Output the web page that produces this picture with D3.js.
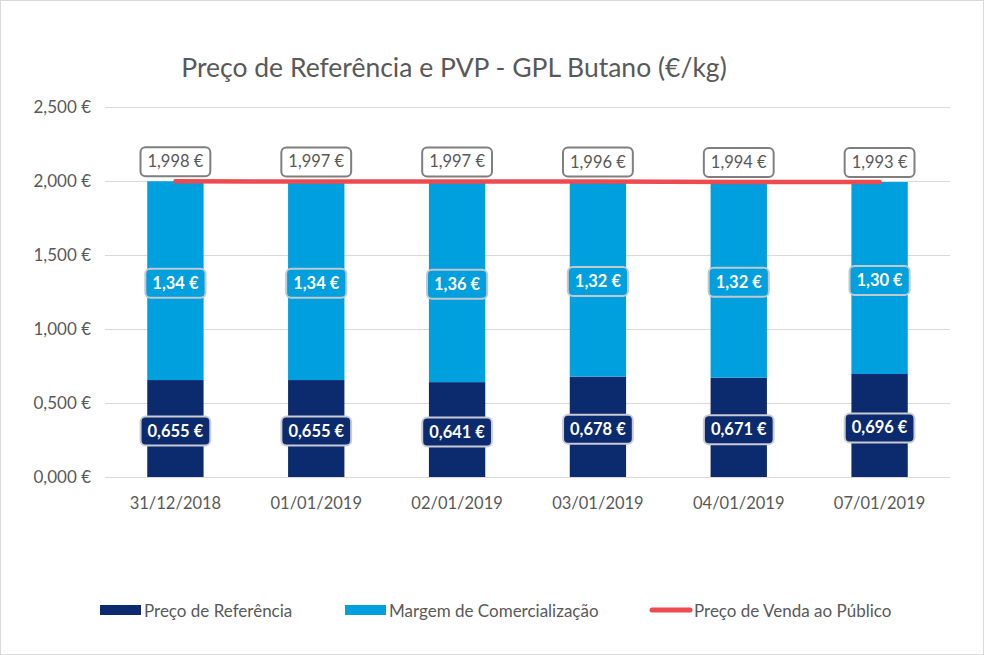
<!DOCTYPE html>
<html><head><meta charset="utf-8">
<script src="https://cdn.jsdelivr.net/npm/d3@7"></script>
<style>body{margin:0;background:#fff}svg{display:block}</style>
</head><body>
<svg id="c" width="984" height="655"></svg>
<script>
const categories = ["31/12/2018","01/01/2019","02/01/2019","03/01/2019","04/01/2019","07/01/2019"];
const precoReferencia = [0.655,0.655,0.641,0.678,0.671,0.696];
const margemComercial = [1.343,1.342,1.356,1.318,1.323,1.297];
const pvp = [1.998,1.997,1.997,1.996,1.994,1.993];
const yTicks = [0,0.5,1,1.5,2,2.5];
const title = "Preço de Referência e PVP - GPL Butano (€/kg)";
const seriesNames = ["Preço de Referência","Margem de Comercialização","Preço de Venda ao Público"];

const font = "Lato, 'Open Sans', sans-serif";
const cNavy = "#0C2A6E", cBlue = "#009FDD", cRed = "#EE4B50", cText = "#595959";
const svg = d3.select("#c");
svg.append("rect").attr("x",0.5).attr("y",0.5).attr("width",983).attr("height",654).attr("fill","#fff").attr("stroke","#d9d9d9");

const L=105, R=950, T=107, B=477;
const x = d3.scaleBand().domain(categories).range([L,R]).paddingInner(0.6).paddingOuter(0.3);
const y = d3.scaleLinear().domain([0,2.5]).range([B,T]);
const fmt = (v,d)=> v.toFixed(d).replace(".",",")+" €";

svg.append("text").attr("x",454).attr("y",77).attr("text-anchor","middle")
  .attr("font-family",font).attr("font-size",26.5).attr("fill",cText).text(title);

// grid + y axis
const ya = svg.append("g").attr("transform",`translate(${L},0)`)
  .call(d3.axisLeft(y).tickValues(yTicks).tickSize(-(R-L)).tickFormat(d=>d.toFixed(3).replace(".",",")+" €"));
ya.select(".domain").remove();
ya.selectAll("line").attr("stroke","#d9d9d9");
ya.selectAll("text").attr("font-family",font).attr("font-size",17).attr("fill",cText).attr("x",-14);

// x axis
const xa = svg.append("g").attr("transform",`translate(0,${B})`).call(d3.axisBottom(x).tickSize(0));
xa.select(".domain").remove();
xa.selectAll("text").attr("font-family",font).attr("font-size",16.5).attr("fill",cText).attr("dy","1.75em");

const bw = x.bandwidth();
const cx = c => x(c)+bw/2;
// bars
svg.selectAll(".ref").data(categories).join("rect")
  .attr("x",c=>x(c)).attr("width",bw)
  .attr("y",(c,i)=>y(precoReferencia[i])).attr("height",(c,i)=>B-y(precoReferencia[i])).attr("fill",cNavy);
svg.selectAll(".mar").data(categories).join("rect")
  .attr("x",c=>x(c)).attr("width",bw)
  .attr("y",(c,i)=>y(precoReferencia[i]+margemComercial[i]))
  .attr("height",(c,i)=>y(precoReferencia[i])-y(precoReferencia[i]+margemComercial[i])).attr("fill",cBlue);

// line
svg.append("path").datum(categories)
  .attr("d",d3.line().x(c=>cx(c)).y((c,i)=>y(pvp[i])))
  .attr("fill","none").attr("stroke",cRed).attr("stroke-width",4.5).attr("stroke-linecap","round");

function label(xc,yc,txt,fill,stroke,tcol,bold){
  const g = svg.append("g");
  const t = g.append("text").attr("x",xc).attr("y",yc).attr("text-anchor","middle").attr("dominant-baseline","central")
    .attr("font-family",font).attr("font-size",bold?16.5:16.5).attr("font-weight",bold?"bold":"normal").attr("fill",tcol).text(txt);
  const w = t.node().getComputedTextLength()+14;
  g.insert("rect","text").attr("x",xc-w/2).attr("y",yc-14).attr("width",w).attr("height",29)
    .attr("rx",5).attr("fill",fill).attr("stroke",stroke).attr("stroke-width",2);
}
categories.forEach((c,i)=>{
  label(cx(c), y(precoReferencia[i]/2)+2, fmt(precoReferencia[i],3), cNavy, "#c9ccd4", "#fff", true);
  label(cx(c), y(precoReferencia[i]+margemComercial[i]/2)+2, fmt(margemComercial[i],2), cBlue, "#c0c8d0", "#fff", true);
  label(cx(c), y(pvp[i])-20, fmt(pvp[i],3), "#fff", "#7f7f7f", cText, false);
});

// legend
const leg = [{n:seriesNames[0],c:cNavy,t:"rect",x:100},{n:seriesNames[1],c:cBlue,t:"rect",x:345},{n:seriesNames[2],c:cRed,t:"line",x:650}];
leg.forEach(l=>{
  if(l.t==="rect") svg.append("rect").attr("x",l.x).attr("y",605).attr("width",41).attr("height",10).attr("fill",l.c);
  else svg.append("line").attr("x1",l.x+2).attr("x2",l.x+40).attr("y1",610).attr("y2",610).attr("stroke",l.c).attr("stroke-width",5).attr("stroke-linecap","round");
  svg.append("text").attr("x",l.x+44).attr("y",610).attr("dominant-baseline","central")
    .attr("font-family",font).attr("font-size",17).attr("fill",cText).text(l.n);
});
</script>
</body></html>
